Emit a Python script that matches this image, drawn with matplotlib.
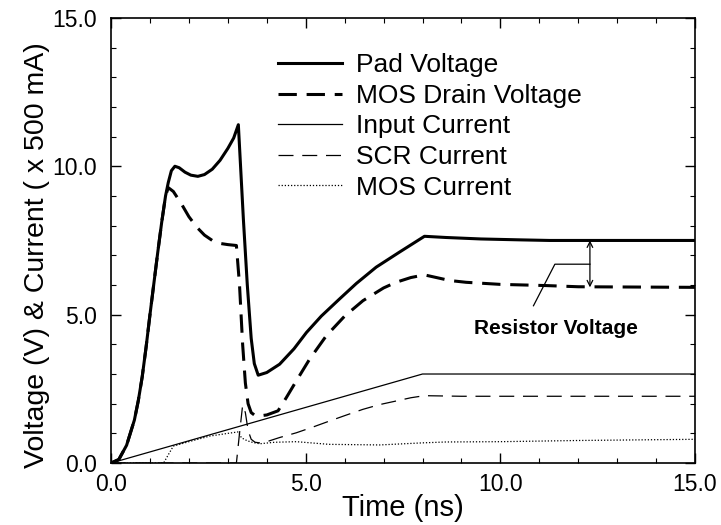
import matplotlib.pyplot as plt
from matplotlib.ticker import MultipleLocator, FormatStrFormatter

plt.rcParams['font.family'] = ['Liberation Sans', 'DejaVu Sans']

# Pad voltage (thick solid)
pad_t = [0.0, 0.2, 0.4, 0.6, 0.7, 0.8, 0.9, 1.0, 1.1, 1.2, 1.3, 1.4, 1.47, 1.55, 1.64,
         1.75, 1.9, 2.05, 2.23, 2.4, 2.6, 2.8, 3.0, 3.15, 3.27, 3.4, 3.5, 3.6, 3.68,
         3.78, 4.0, 4.33, 4.7, 5.02, 5.4, 5.87, 6.3, 6.81, 7.4, 8.05, 8.6, 9.5, 10.5,
         11.26, 12.5, 15.0]
pad_v = [0.0, 0.12, 0.6, 1.45, 2.1, 2.9, 3.9, 5.0, 6.05, 7.1, 8.1, 9.0, 9.45, 9.85, 10.0,
         9.95, 9.8, 9.7, 9.66, 9.72, 9.9, 10.2, 10.6, 10.95, 11.4, 8.2, 6.0, 4.2, 3.35,
         2.96, 3.05, 3.33, 3.85, 4.4, 4.95, 5.53, 6.05, 6.6, 7.1, 7.64, 7.6, 7.55, 7.52,
         7.5, 7.5, 7.5]

# MOS drain voltage (thick dashed)
drain_t = [0.0, 0.2, 0.4, 0.6, 0.7, 0.8, 0.9, 1.0, 1.1, 1.2, 1.3, 1.4, 1.47, 1.6, 1.8,
           2.0, 2.2, 2.4, 2.6, 2.8, 3.0, 3.22, 3.3, 3.38, 3.45, 3.52, 3.6, 3.7, 3.82,
           4.0, 4.29, 4.5, 4.76, 5.1, 5.53, 6.0, 6.47, 7.0, 7.32, 7.7, 8.05, 8.7,
           9.12, 10.0, 11.17, 12.0, 15.0]
drain_v = [0.0, 0.12, 0.6, 1.45, 2.1, 2.9, 3.9, 5.0, 6.05, 7.1, 8.1, 9.0, 9.28, 9.15, 8.75,
           8.3, 7.95, 7.68, 7.5, 7.4, 7.36, 7.33, 6.0, 4.0, 2.7, 2.0, 1.7, 1.6, 1.59,
           1.62, 1.76, 2.2, 2.77, 3.5, 4.29, 4.95, 5.47, 5.9, 6.09, 6.25, 6.34, 6.15,
           6.09, 6.02, 5.98, 5.94, 5.92]

# Input current (thin solid)
input_t = [0.0, 8.0, 15.0]
input_i = [0.0, 3.0, 3.0]

# SCR current (thin dashed)
scr_t = [0.0, 3.22, 3.3, 3.38, 3.45, 3.52, 3.6, 3.7, 3.82, 4.0, 4.33, 4.76, 5.2,
         5.62, 6.05, 6.47, 6.9, 7.32, 7.7, 8.05, 9.0, 15.0]
scr_i = [0.0, 0.0, 1.0, 1.95, 1.7, 1.1, 0.8, 0.7, 0.68, 0.72, 0.86, 1.02, 1.22,
         1.42, 1.62, 1.81, 1.97, 2.09, 2.2, 2.27, 2.25, 2.25]

# MOS current (dotted)
mos_t = [0.0, 1.35, 1.48, 1.6, 2.0, 2.54, 3.0, 3.27, 3.35, 3.5, 3.65, 3.82, 4.2,
         4.76, 5.6, 6.9, 8.0, 8.6, 10.0, 12.0, 15.0]
mos_i = [0.0, 0.0, 0.3, 0.57, 0.72, 0.91, 1.0, 1.05, 0.85, 0.75, 0.69, 0.65, 0.7,
         0.72, 0.63, 0.61, 0.68, 0.71, 0.72, 0.76, 0.8]

fig, ax = plt.subplots(figsize=(7.21, 5.25), dpi=100)
fig.subplots_adjust(left=0.154, right=0.964, bottom=0.118, top=0.966)

ax.plot(pad_t, pad_v, color='black', lw=2.2, label='Pad Voltage')
ax.plot(drain_t, drain_v, color='black', lw=2.2, dashes=(6, 3.2), label='MOS Drain Voltage')
ax.plot(input_t, input_i, color='black', lw=0.9, label='Input Current')
ax.plot(scr_t, scr_i, color='black', lw=0.9, dashes=(12, 7), label='SCR Current')
ax.plot(mos_t, mos_i, color='black', lw=0.9, dashes=(1, 1.5), label='MOS Current')

ax.set_xlim(0, 15)
ax.set_ylim(0, 15)
ax.xaxis.set_major_locator(MultipleLocator(5))
ax.xaxis.set_minor_locator(MultipleLocator(1))
ax.yaxis.set_major_locator(MultipleLocator(5))
ax.yaxis.set_minor_locator(MultipleLocator(1))
ax.xaxis.set_major_formatter(FormatStrFormatter('%.1f'))
ax.yaxis.set_major_formatter(FormatStrFormatter('%.1f'))
ax.tick_params(which='both', direction='in', top=True, right=True, labelsize=16.5)
ax.tick_params(axis='x', which='major', pad=7)
ax.tick_params(axis='y', which='major', pad=10)
ax.tick_params(which='major', length=7, width=1)
ax.tick_params(which='minor', length=3.5, width=0.8)
for s in ax.spines.values():
    s.set_linewidth(1.2)

ax.set_xlabel('Time (ns)', fontsize=21)
ax.set_ylabel('Voltage (V) & Current ( x 500 mA)', fontsize=20.5)
ax.xaxis.set_label_coords(0.5, -0.07)
ax.yaxis.set_label_coords(-0.105, 0.466)

leg = ax.legend(loc='upper left', bbox_to_anchor=(0.255, 0.962), frameon=False,
                fontsize=19, handlelength=2.4, handletextpad=0.55, labelspacing=0.25,
                borderpad=0.2)

# resistor voltage annotation
ax.annotate('', xy=(12.3, 7.5), xytext=(12.3, 5.92),
            arrowprops=dict(arrowstyle='<->', color='black', lw=0.9,
                            shrinkA=0, shrinkB=0, mutation_scale=10))
ax.plot([10.85, 11.4, 12.3], [5.3, 6.7, 6.7], color='black', lw=0.9)
ax.text(11.43, 4.53, 'Resistor Voltage', fontsize=15, fontweight='bold',
        ha='center', va='center')

fig.savefig('out.png', dpi=100)
